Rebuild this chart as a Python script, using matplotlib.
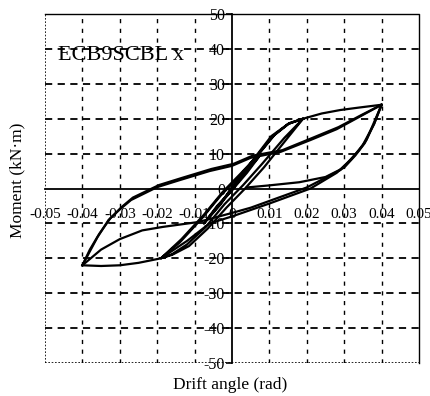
import matplotlib
matplotlib.use("Agg")
import matplotlib.pyplot as plt

plt.rcParams['font.family'] = ['Liberation Serif', 'DejaVu Serif']
plt.rcParams['axes.unicode_minus'] = False

# axis ticks
x_ticks = [-0.05, -0.04, -0.03, -0.02, -0.01, 0, 0.01, 0.02, 0.03, 0.04, 0.05]
x_labels = ['-0.05', '-0.04', '-0.03', '-0.02', '-0.01', '0', '0.01', '0.02', '0.03', '0.04', '0.05']
y_ticks = [-50, -40, -30, -20, -10, 0, 10, 20, 30, 40, 50]
y_labels = ['-50', '-40', '-30', '-20', '-10', '0', '10', '20', '30', '40', '50']
x_grid = [-0.04, -0.03, -0.02, -0.01, 0.01, 0.02, 0.03, 0.04]
y_grid = [-40, -30, -20, -10, 10, 20, 30, 40]

# 0.01 rad cycles
c1_x = [0, 0.003, 0.0075, 0.004, 0.0, -0.004, -0.0075, -0.003, 0.0, 0.004, 0.0075, 0.003, 0.0, -0.004, -0.0075, -0.003, 0.0]
c1_y = [0, 4.0, 9.5, 4.5, -0.5, -5.5, -10, -4.5, 0.5, 5.5, 9.5, 4.0, -0.5, -5.0, -10, -4.0, 0.0]

# 0.02 rad cycles (two loops)
c2_x = [0.0, 0.005, 0.0105, 0.015, 0.019, 0.014, 0.008, 0.003, -0.002, -0.007, -0.012, -0.016, -0.019,
        -0.014, -0.008, -0.003, 0.002, 0.006, 0.011, 0.015, 0.019,
        0.0145, 0.0085, 0.0035, -0.0015, -0.0065, -0.0115, -0.016, -0.019,
        -0.0135, -0.0075, -0.0025, 0.0025, 0.0065, 0.0115, 0.0155, 0.019]
c2_y = [0.0, 7.3, 15.0, 18.5, 20, 14.5, 7.0, 1.0, -4.5, -11, -16, -18.8, -20,
        -15.5, -8.5, -2.0, 3.5, 8.5, 15.0, 18.5, 20,
        14.0, 6.0, 0.0, -5.5, -11.5, -16.5, -19, -20,
        -14.5, -7.5, -1.0, 4.5, 9.0, 15.5, 18.8, 20]

# first excursion to 0.04 rad along the envelope, then unloading
c4a_x = [0.019, 0.024, 0.029, 0.034, 0.040, 0.038, 0.035, 0.032, 0.028, 0.021, 0.010, 0.0, -0.006, -0.012,
         -0.019, -0.025, -0.030, -0.035, -0.040]
c4a_y = [20, 21.5, 22.5, 23.2, 24, 18.5, 12.5, 8.5, 4.5, 0.0, -4.3, -8.0, -10, -15,
         -20, -21.3, -22, -22.2, -22]

# upper branch, loading from negative peak to positive peak (first pass)
up1_x = [-0.040, -0.038, -0.036, -0.033, -0.030, -0.027, -0.020, -0.014, -0.006, 0.0, 0.005, 0.013, 0.021, 0.028, 0.034, 0.040]
up1_y = [-22, -18, -14, -9, -6, -3.3, 0.4, 2.4, 5.0, 6.5, 8.8, 10.5, 13.9, 17.0, 20.5, 24]

# lower branch, unloading from positive peak to negative peak
dn1_x = [0.040, 0.038, 0.036, 0.034, 0.031, 0.029, 0.020, 0.013, 0.005, 0.0, -0.009, -0.0185, -0.024, -0.030, -0.035, -0.040]
dn1_y = [24, 19, 14, 11, 7.5, 5.3, 0.3, -2.4, -5.5, -7.0, -9.6, -11, -12, -14.5, -17.5, -22]

# upper branch, second pass
up2_x = [-0.040, -0.038, -0.0355, -0.0325, -0.0295, -0.0265, -0.0195, -0.0135, -0.0055, 0.0005, 0.0055, 0.0135, 0.0215, 0.0285, 0.0345, 0.040]
up2_y = [-22, -17.5, -13, -8.5, -5.3, -2.6, 1.0, 3.0, 5.6, 7.1, 9.4, 11.0, 14.5, 17.6, 21.0, 24]

# final unloading
dn2_x = [0.040, 0.038, 0.0355, 0.033, 0.030, 0.025, 0.018, 0.010, 0.004]
dn2_y = [24, 18.5, 13.0, 9.5, 6.0, 3.3, 1.8, 0.9, 0.3]

fig = plt.figure(figsize=(4.31, 3.96), dpi=100)
ax = fig.add_axes([0.1044, 0.0833, 0.8677, 0.8813])
ax.set_xlim(-0.05, 0.05)
ax.set_ylim(-50, 50)

# grid
for gx in x_grid:
    ax.axvline(gx, color='black', lw=1.0, linestyle=(0, (3, 4)), zorder=1)
for gy in y_grid:
    ax.axhline(gy, color='black', lw=1.3, linestyle=(0, (4, 3)), zorder=1)

# frame (dotted, scanned look)
for s in ['top', 'right']:
    ax.spines[s].set_linestyle((0, (1, 1)))
    ax.spines[s].set_linewidth(1.0)
ax.axvline(-0.05, color='black', lw=1.2, linestyle=(0, (1, 1)), zorder=1)
ax.axhline(-50, color='black', lw=1.2, linestyle=(0, (1, 1)), zorder=1)

# axes through the origin
ax.spines['left'].set_position(('data', 0))
ax.spines['bottom'].set_position(('data', 0))
ax.spines['left'].set_linewidth(1.3)
ax.spines['bottom'].set_linewidth(1.3)
ax.set_xticks(x_ticks)
ax.set_xticklabels(x_labels)
ax.set_yticks(y_ticks)
ax.set_yticklabels(y_labels)
ax.tick_params(axis='x', length=0, pad=14, labelsize=11)
ax.tick_params(axis='y', length=4, width=1.2, pad=1, labelsize=11.5)

for xs, ys in [(c1_x, c1_y), (c2_x, c2_y), (c4a_x, c4a_y), (up1_x, up1_y),
               (dn1_x, dn1_y), (up2_x, up2_y), (dn2_x, dn2_y)]:
    ax.plot(xs, ys, color='black', lw=1.6, zorder=3)

ax.text(0.035, 0.8825, 'ECB9SCBL x', transform=ax.transAxes, fontsize=16,
        va='center', ha='left')

fig.text(230 / 431, 1 - 385 / 396, 'Drift angle (rad)', ha='center', va='center', fontsize=12.5)
fig.text(17 / 431, 1 - 180 / 396, 'Moment (kN\u00b7m)', ha='center', va='center',
         rotation=90, fontsize=12.5)

fig.savefig('out.png', dpi=100)
